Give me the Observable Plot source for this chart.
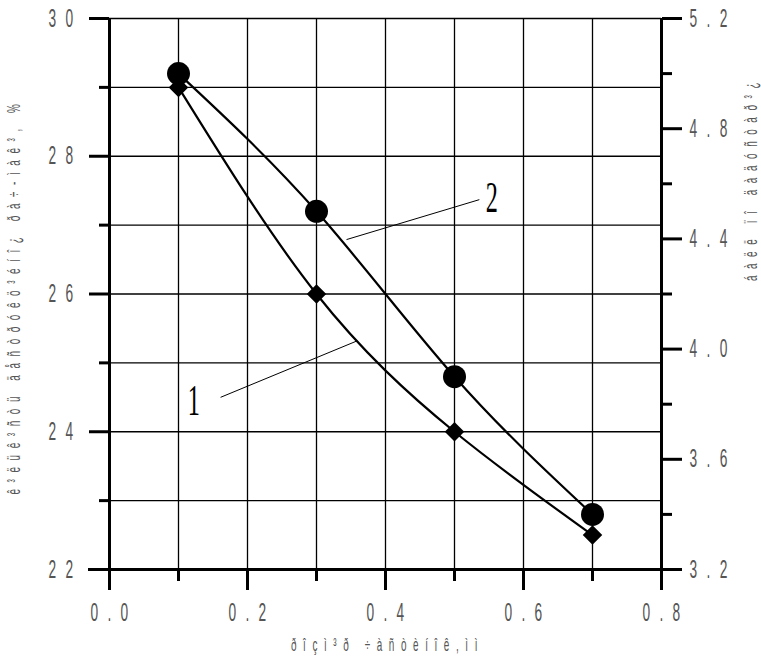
<!DOCTYPE html>
<html><head><meta charset="utf-8">
<script src="https://cdn.jsdelivr.net/npm/d3@7"></script>
<script src="https://cdn.jsdelivr.net/npm/@observablehq/plot@0.6"></script>
<style>body{margin:0;background:#fff} svg{display:block}</style>
</head><body><div id="chart"></div>
<script>
// ---- data ----
const sizes = [0.1, 0.3, 0.5, 0.7];
const series1Left = [29.0, 26.0, 24.0, 22.5];   // diamonds, left axis
const series2Right = [5.0, 4.5, 3.9, 3.4];      // circles, right axis
const xMajor = [0, 0.2, 0.4, 0.6, 0.8];
const xMinor = [0.1, 0.3, 0.5, 0.7];
const yLeftMajor = [22, 24, 26, 28, 30];
const yLeftMinor = [23, 25, 27, 29];
const yRightMajor = [3.2, 3.6, 4.0, 4.4, 4.8, 5.2];
const yRightMinor = [3.4, 3.8, 4.2, 4.6, 5.0];
const curveLabels = ["1", "2"];
const curveLabelX = [0.127, 0.559];
const curveLabelY = [24.45, 27.39];
const leaderX1 = [0.161, 0.3435];
const leaderY1 = [24.50, 26.79];
const leaderX2 = [0.359, 0.536];
const leaderY2 = [25.32, 27.37];
const xTitle = "ðîçì³ð ÷àñòèíîê,ìì";
const yLeftTitle = "ê³ëüê³ñòü äåñòðóêö³éíî¿ ðà÷-ìàê³, %";
const yRightTitle = "áàëë ïî äàäóñòàð³¿";

const leftDomain = [22, 30];
const rightDomain = [3.2, 5.2];
const k = (leftDomain[1] - leftDomain[0]) / (rightDomain[1] - rightDomain[0]);
const toLeft = v => leftDomain[0] + (v - rightDomain[0]) * k;
const fromLeft = v => rightDomain[0] + (v - leftDomain[0]) / k;

const data1 = sizes.map((s, i) => ({x: s, y: series1Left[i]}));
const data2 = sizes.map((s, i) => ({x: s, y: toLeft(series2Right[i])}));
const labelData = curveLabels.map((t, i) => ({t, x: curveLabelX[i], y: curveLabelY[i]}));
const leaderData = leaderX1.map((_, i) => ({x1: leaderX1[i], y1: leaderY1[i], x2: leaderX2[i], y2: leaderY2[i]}));

const tickFill = "#555";
const titleFill = "#555";
const plot = Plot.plot({
  width: 761, height: 657,
  marginLeft: 109, marginRight: 100, marginTop: 18, marginBottom: 88,
  x: {domain: [0, 0.8]},
  y: {domain: leftDomain},
  style: {fontFamily: "'Liberation Sans', Arial, sans-serif", background: "white"},
  marks: [
    Plot.gridX([...xMajor, ...xMinor], {stroke: "black", strokeOpacity: 1, strokeWidth: 1.3}),
    Plot.gridY([...yLeftMajor, ...yLeftMinor], {stroke: "black", strokeOpacity: 1, strokeWidth: 1.3}),
    Plot.ruleX([0], {strokeWidth: 3, insetBottom: -20}),
    Plot.ruleX([0.8], {strokeWidth: 3, insetBottom: -19}),
    Plot.ruleY([22], {strokeWidth: 3, insetLeft: -21}),
    Plot.axisY(yLeftMajor, {anchor: "left", tickSize: 20, tickPadding: 7, strokeWidth: 3, fontSize: 25, fill: tickFill, tickFormat: d => String(d), label: null}),
    Plot.axisY(yLeftMinor, {anchor: "left", tickSize: 10, strokeWidth: 3, tickFormat: () => "", label: null}),
    Plot.axisY(yRightMajor.map(toLeft), {anchor: "right", tickSize: 20, tickPadding: 8, strokeWidth: 3, fontSize: 25, fill: tickFill, tickFormat: d => fromLeft(d).toFixed(1), label: null}),
    Plot.axisY(yRightMinor.map(toLeft), {anchor: "right", tickSize: 10, strokeWidth: 3, tickFormat: () => "", label: null}),
    Plot.axisX(xMajor, {anchor: "bottom", tickSize: 21, tickPadding: 13, strokeWidth: 3, fontSize: 25, fill: tickFill, tickFormat: d => d.toFixed(1), label: null}),
    Plot.axisX(xMinor, {anchor: "bottom", tickSize: 12, strokeWidth: 3, tickFormat: () => "", label: null}),
    Plot.line(data1, {x: "x", y: "y", curve: "natural", strokeWidth: 2.2}),
    Plot.line(data2, {x: "x", y: "y", curve: "natural", strokeWidth: 2.2}),
    Plot.dot(data1, {x: "x", y: "y", symbol: "diamond2", r: 8.8, fill: "black"}),
    Plot.dot(data2, {x: "x", y: "y", r: 11.5, fill: "black"}),
    Plot.link(leaderData, {x1: "x1", y1: "y1", x2: "x2", y2: "y2", strokeWidth: 1}),
    Plot.text(labelData, {x: "x", y: "y", text: "t", fontSize: 44, fontFamily: "'Liberation Serif', serif", fill: "black", textAnchor: "middle", lineAnchor: "middle"}),
    Plot.text([xTitle], {text: d => d, frameAnchor: "bottom", dy: 76, dx: 2, textAnchor: "middle", lineAnchor: "middle", fontSize: 18, fill: titleFill}),
    Plot.text([yLeftTitle], {text: d => d, frameAnchor: "left", dx: -95, dy: 2, rotate: -90, textAnchor: "middle", lineAnchor: "middle", fontSize: 18, fill: titleFill}),
    Plot.text([yRightTitle], {text: d => d, frameAnchor: "top-right", dx: 90, dy: 160, rotate: -90, textAnchor: "middle", lineAnchor: "middle", fontSize: 18, fill: titleFill})
  ]
});

// narrow, spaced lettering like the original scan
plot.style.letterSpacing = "12px";
plot.querySelectorAll("g[aria-label$='tick label']").forEach(g => { g.style.letterSpacing = "17px"; });
plot.querySelectorAll("g[aria-label='x-axis tick label'] text").forEach(t => {
  t.setAttribute("transform", (t.getAttribute("transform") || "") + " translate(4.5,0)");
});
plot.querySelectorAll("text").forEach(t => {
  const tr = t.getAttribute("transform") || "";
  t.setAttribute("transform", tr + " scale(0.55,1)");
});
document.getElementById("chart").appendChild(plot);
</script>
</body></html>
